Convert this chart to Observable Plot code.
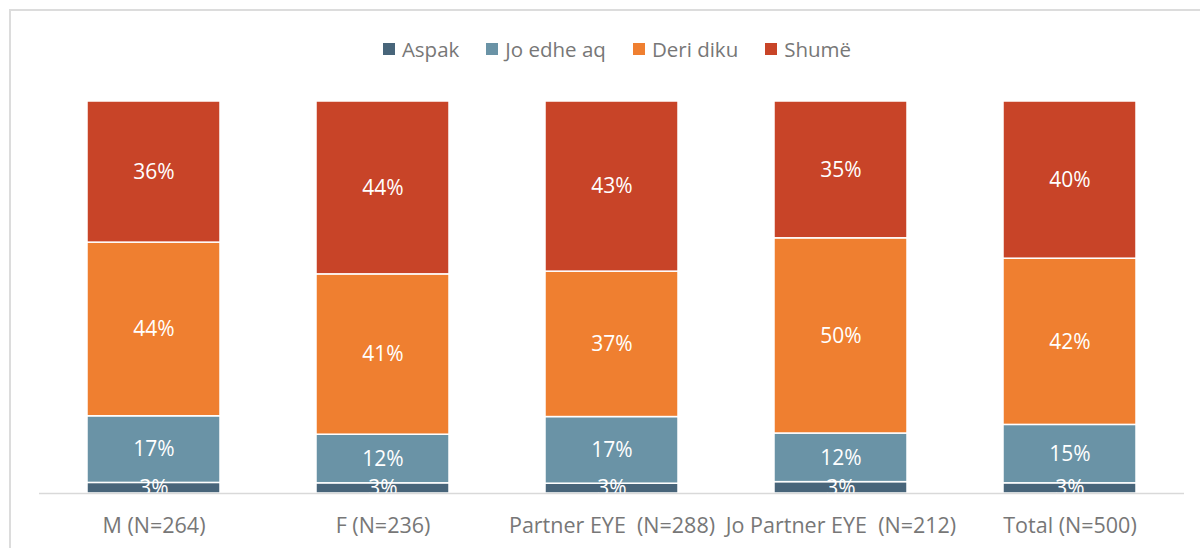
<!DOCTYPE html>
<html>
<head>
<meta charset="utf-8">
<script src="https://cdn.jsdelivr.net/npm/d3@7"></script>
<script src="https://cdn.jsdelivr.net/npm/@observablehq/plot@0.6"></script>
<style>
  html, body { margin: 0; padding: 0; background: #fff; }
  #wrap { position: relative; width: 1200px; height: 548px; overflow: hidden; font-family: "Open Sans", sans-serif; }
  #frame { position: absolute; left: 9px; top: 9px; width: 1300px; height: 700px; border-top: 2px solid #dcdcdc; border-left: 2px solid #dcdcdc; box-sizing: border-box; }
  #legend { position: absolute; top: 34px; left: 0; width: 1200px; padding-left: 34px; box-sizing: border-box; display: flex; justify-content: center; gap: 27px; font-size: 20.5px; color: #777; line-height: 30px; z-index: 2; }
  #legend .item { display: flex; align-items: center; }
  #legend .sw { width: 12px; height: 12px; margin-right: 7px; }
  #chart { position: absolute; left: 0; top: 0; }
  svg text { white-space: pre; }
</style>
</head>
<body>
<div id="wrap">
  <div id="frame"></div>
  <div id="legend"></div>
  <div id="chart"></div>
</div>
<script>
const categories = ["M (N=264)", "F (N=236)", "Partner EYE  (N=288)", "Jo Partner EYE  (N=212)", "Total (N=500)"];
const series = ["Aspak", "Jo edhe aq", "Deri diku", "Shumë"];
const colors = ["#48657a", "#6a93a6", "#ef7f30", "#c84428"];

const aspak    = [2.7, 2.6, 2.5, 2.9, 2.6];
const joEdheAq = [17.0, 12.4, 17.0, 12.4, 14.9];
const deriDiku = [44.3, 40.9, 37.1, 49.8, 42.4];
const shume    = [36.0, 44.1, 43.4, 34.9, 40.1];

const seriesValues = [aspak, joEdheAq, deriDiku, shume];
const data = [];
series.forEach((s, si) => {
  categories.forEach((c, ci) => {
    data.push({category: c, series: s, value: seriesValues[si][ci]});
  });
});

// Legend
const legend = document.getElementById("legend");
series.forEach((s, i) => {
  const item = document.createElement("div");
  item.className = "item";
  const sw = document.createElement("span");
  sw.className = "sw";
  sw.style.background = colors[i];
  const label = document.createElement("span");
  label.textContent = s;
  item.appendChild(sw);
  item.appendChild(label);
  legend.appendChild(item);
});

const chart = Plot.plot({
  width: 1200,
  height: 548,
  marginTop: 101,
  marginBottom: 55,
  marginLeft: 39,
  marginRight: 16,
  style: {fontFamily: "Open Sans", fontSize: "21px", background: "transparent"},
  x: {domain: categories, paddingInner: 0.42, paddingOuter: 0.21, label: null},
  y: {domain: [0, 100], axis: null},
  color: {domain: series, range: colors},
  marks: [
    Plot.barY(data, {x: "category", y: "value", fill: "series", z: "series", order: series, stroke: "#fff", strokeWidth: 1.5}),
    Plot.text(data, Plot.stackY({x: "category", y: "value", z: "series", order: series,
      text: d => Math.round(d.value) + "%", fill: "#fff", fontSize: 21, clip: true})),
    Plot.ruleY([0], {stroke: "#d9d9d9", strokeWidth: 1.5}),
    Plot.axisX({tickSize: 0, tickPadding: 24, fontSize: 21.5, color: "#777", label: null})
  ]
});
document.getElementById("chart").appendChild(chart);
</script>
</body>
</html>
